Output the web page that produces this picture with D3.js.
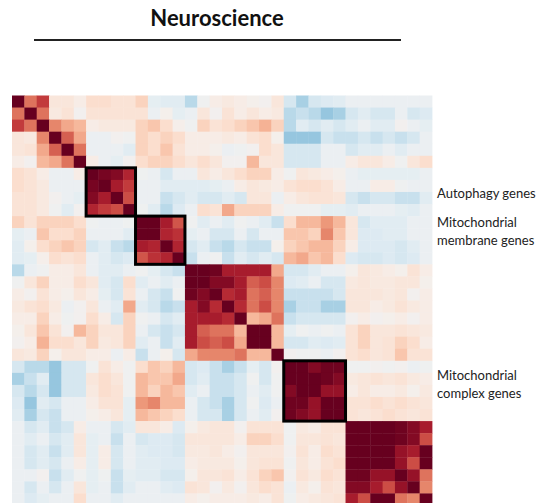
<!DOCTYPE html>
<html>
<head>
<meta charset="utf-8">
<script src="https://cdn.jsdelivr.net/npm/d3@7"></script>
<style>
  body { margin: 0; background: #fff; }
  svg { display: block; }
</style>
</head>
<body>
<div id="chart"></div>
<script>
var w = 541,
  h = 503;

var title = "Neuroscience";

// upper triangle of the gene-gene correlation matrix, row i holds columns i+1..33
var upper = [
  [0.5, 0.65, 0.1, 0.1, 0.05, 0.15, 0.15, 0.12, 0.12, 0.2, -0.08, -0.1, -0.1, -0.25, -0.02, 0.05, 0.08, 0.05, 0.02, 0.0, 0.1, -0.15, -0.3, -0.15, -0.12, -0.1, -0.05, -0.05, -0.05, -0.05, -0.05, -0.05, -0.05],
  [0.5, 0.08, 0.12, 0.0, 0.12, 0.12, 0.12, 0.12, 0.12, -0.05, 0.02, -0.08, -0.05, 0.1, 0.0, 0.12, 0.05, 0.1, 0.05, 0.08, -0.25, -0.2, -0.25, -0.35, -0.3, -0.15, -0.1, -0.15, -0.15, -0.05, -0.15, -0.12],
  [0.45, 0.35, 0.3, 0.05, 0.08, 0.08, 0.08, 0.2, 0.25, 0.15, 0.03, -0.02, 0.2, 0.12, 0.15, 0.2, 0.25, 0.32, 0.2, -0.25, -0.1, -0.15, -0.1, -0.15, -0.1, -0.05, -0.1, -0.1, 0.0, -0.05, -0.08],
  [0.55, 0.35, -0.05, -0.05, 0.0, -0.02, 0.2, 0.15, 0.2, 0.15, 0.05, 0.05, 0.05, 0.08, 0.05, 0.12, 0.15, 0.02, -0.35, -0.35, -0.35, -0.15, -0.2, -0.2, -0.15, -0.2, -0.15, -0.2, -0.15, -0.05],
  [0.5, -0.05, -0.05, -0.05, -0.1, 0.2, 0.15, 0.25, 0.12, 0.05, 0.05, 0.02, -0.05, -0.03, 0.0, 0.15, 0.1, -0.15, -0.15, -0.15, -0.05, -0.05, -0.15, -0.1, -0.1, -0.05, -0.1, -0.05, -0.05],
  [0.05, -0.05, -0.08, 0.0, 0.15, 0.2, 0.2, 0.15, 0.1, 0.15, 0.1, 0.0, 0.0, 0.3, 0.1, 0.1, -0.15, -0.15, -0.15, -0.05, -0.05, 0.05, 0.1, 0.1, 0.05, -0.02, 0.1, 0.15],
  [0.88, 0.85, 0.72, -0.03, -0.05, -0.15, -0.05, -0.05, 0.1, 0.05, 0.1, 0.15, 0.2, 0.2, 0.05, -0.02, 0.1, 0.08, 0.05, 0.02, -0.05, -0.08, -0.08, -0.08, -0.08, -0.08, -0.05],
  [0.75, 0.65, -0.05, -0.05, -0.1, -0.1, -0.1, -0.1, -0.08, -0.05, 0.05, 0.1, 0.08, 0.05, 0.12, 0.15, 0.15, 0.12, 0.05, -0.05, -0.05, 0.05, 0.05, -0.03, -0.05, -0.05],
  [0.6, -0.05, -0.05, -0.2, -0.15, -0.1, -0.15, -0.15, -0.1, -0.15, 0.1, 0.1, -0.05, 0.05, 0.1, 0.12, 0.12, 0.1, -0.15, -0.2, -0.15, -0.15, -0.2, -0.2, -0.1],
  [-0.03, -0.1, -0.25, -0.12, -0.05, 0.15, 0.12, 0.35, 0.2, 0.2, 0.2, 0.05, -0.02, -0.02, -0.02, -0.08, -0.08, -0.1, -0.05, -0.05, -0.05, -0.08, -0.1, -0.05],
  [0.95, 0.75, 0.58, -0.02, -0.1, -0.05, -0.1, -0.02, -0.05, -0.1, -0.2, 0.15, 0.3, 0.3, 0.4, 0.3, 0.1, -0.15, -0.1, -0.1, -0.1, -0.05, -0.05],
  [0.72, 0.68, -0.08, -0.05, -0.15, -0.15, -0.05, -0.15, -0.05, -0.05, 0.25, 0.25, 0.2, 0.45, 0.25, 0.1, -0.12, -0.12, -0.1, -0.1, -0.05, -0.05],
  [0.72, -0.15, -0.1, -0.2, -0.25, -0.15, -0.2, -0.2, 0.02, 0.2, 0.25, 0.3, 0.3, 0.2, 0.05, -0.12, -0.12, -0.12, -0.15, -0.1, -0.05],
  [-0.2, -0.05, -0.02, -0.2, -0.1, -0.15, -0.1, -0.15, 0.3, 0.35, 0.25, 0.3, 0.15, -0.12, -0.15, -0.15, -0.12, -0.15, -0.12, -0.05],
  [1.0, 0.9, 0.75, 0.75, 0.75, 0.75, 0.35, -0.15, -0.15, -0.1, -0.05, -0.05, 0.02, 0.1, 0.08, 0.05, 0.02, 0.12, 0.05],
  [0.85, 0.85, 0.75, 0.55, 0.6, 0.45, -0.12, -0.1, -0.05, -0.15, -0.15, 0.08, 0.1, 0.08, 0.08, 0.1, 0.1, 0.02],
  [0.7, 0.75, 0.5, 0.55, 0.45, -0.2, -0.2, -0.2, -0.2, -0.15, 0.1, 0.1, 0.1, 0.08, 0.1, 0.0, 0.05],
  [0.7, 0.5, 0.6, 0.45, -0.3, -0.2, -0.2, -0.3, -0.3, 0.1, 0.1, 0.05, 0.08, 0.12, 0.08, 0.05],
  [0.3, 0.35, 0.5, -0.2, -0.15, -0.15, -0.15, -0.15, 0.0, 0.05, 0.0, 0.02, 0.05, 0.0, 0.05],
  [0.98, 0.3, -0.08, -0.02, -0.05, -0.02, -0.05, 0.12, 0.2, 0.1, 0.1, 0.12, 0.1, 0.08],
  [0.3, -0.15, -0.15, -0.1, -0.12, -0.1, 0.12, 0.2, 0.1, 0.12, 0.2, 0.15, 0.05],
  [0.0, -0.02, -0.02, -0.05, 0.0, 0.12, 0.15, 0.1, 0.12, 0.25, 0.12, 0.12],
  [0.95, 0.85, 0.9, 0.9, -0.02, -0.02, 0.0, -0.02, 0.0, -0.05, -0.03],
  [1.0, 0.9, 0.85, 0.08, 0.1, 0.12, 0.1, 0.12, 0.08, 0.05],
  [0.8, 0.8, 0.05, 0.1, 0.05, 0.05, 0.08, 0.02, 0.08],
  [1.0, 0.12, 0.12, 0.15, 0.12, 0.15, 0.12, 0.1],
  [0.12, 0.1, 0.12, 0.15, 0.12, 0.1, 0.12],
  [0.97, 0.95, 0.95, 0.9, 0.85, 0.75],
  [0.97, 0.95, 0.9, 0.85, 0.6],
  [0.95, 0.8, 0.75, 0.95],
  [0.8, 0.6, 0.97],
  [0.8, 0.5],
  [0.45]
];

// gene modules that get a frame: first and last gene index
var moduleNames = [["Autophagy genes"], ["Mitochondrial", "membrane genes"], ["Mitochondrial", "complex genes"]];
var moduleStart = [6, 10, 22];
var moduleEnd = [9, 13, 26];

var n = upper.length + 1;
var genes = d3.range(n);

// full symmetric matrix
var cells = [];
genes.forEach(function (i) {
  genes.forEach(function (j) {
    var v;
    if (i == j) v = 1;
    else if (j > i) v = upper[i][j - i - 1];
    else v = upper[j][i - j - 1];
    cells.push({ row: i, col: j, value: v });
  });
});

var svg = d3.select("#chart").append("svg").attr("width", w).attr("height", h);

var x = d3.scaleBand().domain(genes).range([12, 432]);
var y = d3.scaleBand().domain(genes).range([95.5, 505.5]);
var color = d3.scaleSequential(function (t) { return d3.interpolateRdBu(1 - t); })
  .domain([-0.92, 0.92]).clamp(true);

svg.append("g").selectAll("rect").data(cells).enter().append("rect")
  .attr("x", function (d) { return x(d.col); })
  .attr("y", function (d) { return y(d.row); })
  .attr("width", x.bandwidth() + 0.4)
  .attr("height", y.bandwidth() + 0.4)
  .attr("fill", function (d) { return color(d.value); });

svg.append("g").selectAll("rect").data(moduleStart).enter().append("rect")
  .attr("x", function (d) { return x(d); })
  .attr("y", function (d) { return y(d); })
  .attr("width", function (d, i) { return x(moduleEnd[i]) + x.bandwidth() - x(d); })
  .attr("height", function (d, i) { return y(moduleEnd[i]) + y.bandwidth() - y(d); })
  .attr("fill", "none")
  .attr("stroke", "#000")
  .attr("stroke-width", 3);

// labels to the right of the matrix, first line roughly level with the frame centre
var labelY = [198, 227, 380];
var lbl = svg.append("g").style("font-family", "Lato, 'Open Sans', sans-serif").style("font-size", "13px").attr("fill", "#222");
moduleNames.forEach(function (lines, k) {
  var t = lbl.append("text").attr("x", 437).attr("y", labelY[k]);
  lines.forEach(function (s, li) {
    t.append("tspan").attr("x", 437).attr("dy", li == 0 ? 0 : 18.3).text(s);
  });
});

svg.append("text")
  .attr("x", 217).attr("y", 25.5)
  .attr("text-anchor", "middle")
  .style("font-family", "Lato, 'Open Sans', sans-serif")
  .style("font-weight", "bold")
  .style("font-size", "22px")
  .attr("fill", "#111")
  .text(title);

svg.append("line")
  .attr("x1", 34).attr("x2", 401)
  .attr("y1", 40).attr("y2", 40)
  .attr("stroke", "#222")
  .attr("stroke-width", 2);
</script>
</body>
</html>
